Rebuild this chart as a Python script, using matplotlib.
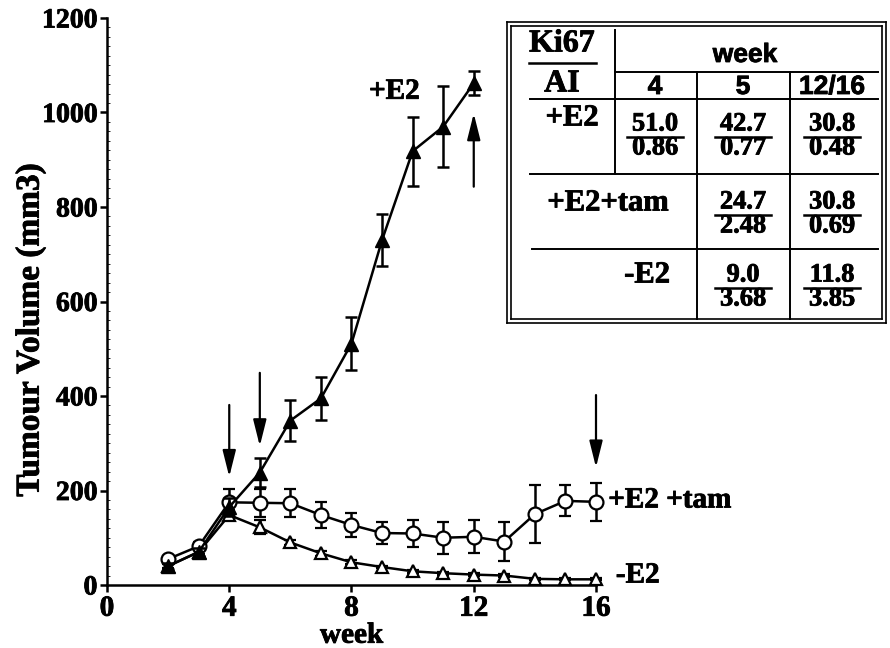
import matplotlib
matplotlib.use("Agg")
from matplotlib import pyplot as plt
from matplotlib.lines import Line2D
from matplotlib.ticker import MultipleLocator
import matplotlib.patheffects as pe

# tumour volume (mm3) by week
weeks_e2 = [2, 3, 4, 5, 6, 7, 8, 9, 10, 11, 12]
vol_e2 = [40, 70, 165, 238, 348, 395, 511, 730, 918, 970, 1062]
err_e2 = [6, 8, 20, 30, 43, 45, 56, 55, 73, 86, 25]

weeks_tam = [2, 3, 4, 5, 6, 7, 8, 9, 10, 11, 12, 13, 14, 15, 16]
vol_tam = [55, 82, 175, 174, 173, 148, 127, 110, 109, 100, 102, 92, 150, 178, 176]
err_tam = [6, 8, 28, 30, 30, 28, 26, 24, 28, 34, 35, 42, 62, 33, 40]

weeks_neg = [2, 3, 4, 5, 6, 7, 8, 9, 10, 11, 12, 13, 14, 15, 16]
vol_neg = [40, 70, 148, 122, 90, 67, 48, 38, 29, 25, 22, 20, 13, 12, 12]
err_neg = [4, 5, 10, 15, 6, 5, 4, 3, 3, 3, 3, 3, 2, 2, 2]

# arrows: (week, tail, tip)
arrows = [(4, 381, 229), (5, 449, 294), (16, 402, 249), (12, 843, 998)]

# inset table
row_labels = ['+E2', '+E2+tam', '-E2']
col_labels = ['4', '5', '12/16']
ki67 = [['51.0', '42.7', '30.8'], [None, '24.7', '30.8'], [None, '9.0', '11.8']]
ai = [['0.86', '0.77', '0.48'], [None, '2.48', '0.69'], [None, '3.68', '3.85']]

serif = 'Liberation Serif'
sans = 'Liberation Sans'
W, H = 890, 648

fig = plt.figure(figsize=(W / 100, H / 100), dpi=100)
ax = fig.add_axes([107 / W, 63 / H, (596 - 107) / W, (585 - 18) / H])

kw = dict(color='k', lw=1.8, elinewidth=1.8, capsize=4, capthick=1.8, clip_on=False)
ax.errorbar(weeks_neg, vol_neg, yerr=err_neg, marker='^', ms=9, mfc='white', mew=1.6, zorder=3, **kw)
ax.errorbar(weeks_tam, vol_tam, yerr=err_tam, marker='o', ms=10, mfc='white', mew=1.6, zorder=4, **kw)
ax.errorbar(weeks_e2, vol_e2, yerr=err_e2, marker='^', ms=10.5, mfc='k', zorder=5, **kw)

for wk, tail, tip in arrows:
    ax.annotate('', xy=(wk, tip), xytext=(wk, tail),
                arrowprops=dict(arrowstyle='-|>,head_length=0.8,head_width=0.2',
                                mutation_scale=20, lw=1.6, color='k',
                                shrinkA=0, shrinkB=0))

ax.text(9.4, 1045, '+E2', fontsize=21, fontfamily=serif, fontweight='bold', ha='center', va='center')
ax.text(16.4, 180, '+E2 +tam', fontsize=21, fontfamily=serif, fontweight='bold', ha='left', va='center')
ax.text(16.65, 21, '-E2', fontsize=21, fontfamily=serif, fontweight='bold', ha='left', va='center')

ax.set_xlim(0, 16)
ax.set_ylim(0, 1200)
ax.set_xticks([0, 4, 8, 12, 16])
ax.set_yticks(range(0, 1201, 200))
ax.yaxis.set_minor_locator(MultipleLocator(20))
for s in ['top', 'right']:
    ax.spines[s].set_visible(False)
for s in ['left', 'bottom']:
    ax.spines[s].set_linewidth(1.8)
ax.tick_params(which='major', direction='out', length=5, width=1.8, pad=2)
ax.tick_params(which='minor', axis='y', direction='in', length=2, width=0.6)
for lab in ax.get_xticklabels():
    lab.set_fontfamily(serif); lab.set_fontweight('bold'); lab.set_fontsize(21)
for lab in ax.get_yticklabels():
    lab.set_fontfamily(serif); lab.set_fontweight('bold'); lab.set_fontsize(20)
ax.set_xlabel('week', fontsize=21, fontfamily=serif, fontweight='bold', labelpad=0)
ax.set_ylabel('Tumour Volume (mm3)', fontsize=24, fontfamily=serif, fontweight='bold')
ax.yaxis.set_label_coords(-0.125, 0.45)


# table drawn in pixel coordinates of the figure
def fx(px):
    return px / W


def fy(py):
    return 1 - py / H


def hline(x0, x1, y, lw=1.4):
    fig.add_artist(Line2D([fx(x0), fx(x1)], [fy(y), fy(y)], color='k', lw=lw))


def vline(x, y0, y1, lw=1.4):
    fig.add_artist(Line2D([fx(x), fx(x)], [fy(y0), fy(y1)], color='k', lw=lw))


def ftext(x, y, s, size, family, **k):
    fig.text(fx(x), fy(y), s, fontsize=size, fontfamily=family, fontweight='bold',
             ha='center', va='center', **k)


# double border
for off in (0, 4):
    x0, x1, y0, y1 = 507 + off, 886 - off, 22 + off, 323 - off
    hline(x0, x1, y0, 1.2); hline(x0, x1, y1, 1.2)
    vline(x0, y0, y1, 1.2); vline(x1, y0, y1, 1.2)

col_x = [655, 743, 832]
bar_y = [137, 215, 288]
label_xy = [(572, 118), (608, 203), (647, 275)]

vline(615, 30, 174)
vline(697, 72, 319)
vline(790, 72, 319)
hline(615, 878, 72)
hline(530, 878, 99)
hline(530, 878, 174)
hline(532, 878, 249)
hline(529, 596, 63, 1.8)

ftext(562, 44, 'Ki67', 23, serif)
ftext(562, 84, 'AI', 23, serif)
ftext(745, 55, 'week', 19, sans)
for cx, c in zip(col_x, col_labels):
    ftext(cx, 87, c, 19, sans)

for i, (lx, ly) in enumerate(label_xy):
    ftext(lx, ly, row_labels[i], 22, serif)
    for j, cx in enumerate(col_x):
        if ki67[i][j] is None:
            continue
        ftext(cx, bar_y[i] - 13, ki67[i][j], 19, serif)
        ftext(cx, bar_y[i] + 11, ai[i][j], 19, serif)
        hline(cx - 28, cx + 28, bar_y[i], 1.8)

# scanned print looks heavier: thicken every text a little
for t in fig.findobj(matplotlib.text.Text):
    t.set_path_effects([pe.withStroke(linewidth=0.6, foreground='k')])

fig.savefig('out.png', dpi=100)
